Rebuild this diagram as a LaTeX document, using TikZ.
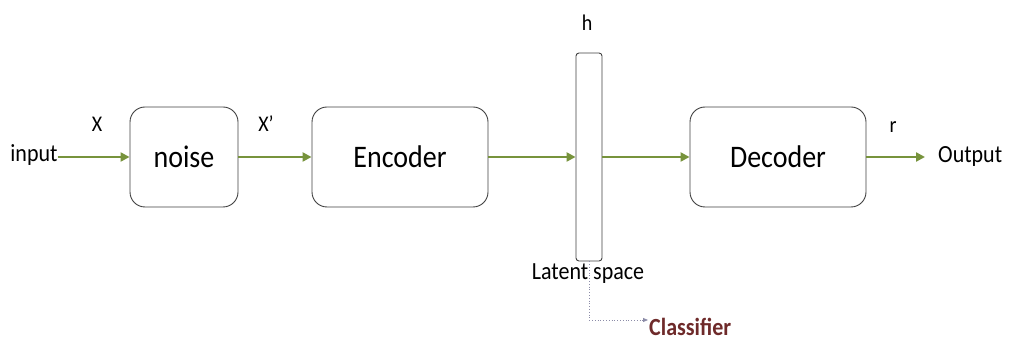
\documentclass[tikz,border=0pt]{standalone}
\usepackage{fontspec}
\usepackage{graphicx}
\setmainfont{Carlito}
\usetikzlibrary{arrows.meta}
\definecolor{flowgreen}{HTML}{77933C}
\definecolor{boxline}{HTML}{404040}
\definecolor{clsred}{HTML}{6E2A2A}
\definecolor{dotline}{HTML}{8C8CA8}
% glyphs set slightly taller than the font's natural proportions
\newcommand{\tallt}[1]{\scalebox{1}[1.12]{#1}}
\tikzset{
  block/.style={draw=boxline, line width=0.9pt, rounded corners=15pt, fill=white,
    minimum width=176pt, minimum height=100pt, inner sep=0pt,
    font=\fontsize{28}{32}\selectfont},
  latent/.style={draw=boxline, line width=0.9pt, rounded corners=3pt, fill=white,
    minimum width=26pt, minimum height=208pt, inner sep=0pt},
  lbl/.style={inner sep=0pt, font=\fontsize{22}{26}\selectfont},
  sym/.style={inner sep=0pt, font=\fontsize{20}{24}\selectfont},
  flow/.style={draw=flowgreen, line width=2.6pt,
    -{Triangle[length=9pt,width=9pt]}},
  tap/.style={draw=dotline, line width=0.8pt, dotted,
    -{Triangle[length=5pt,width=4pt]}}
}
\begin{document}
\begin{tikzpicture}[x=1pt,y=-1pt]
\useasboundingbox (0,0) rectangle (1009,344);

% processing blocks
\node[block, minimum width=108pt] (noise) at (184,157) {\tallt{noise}};
\node[block] (enc) at (400,157) {\tallt{Encoder}};
\node[latent] (bar) at (589,157) {};
\node[block] (dec) at (778,157) {\tallt{Decoder}};

% terminals
\node[lbl] (in) at (34,155) {\tallt{input}};
\node[lbl, anchor=west] (out) at (938,156) {\tallt{Output}};
\node[lbl, font=\bfseries\fontsize{22}{26}\selectfont, text=clsred, anchor=west] (cls) at (649,327) {\tallt{Classifier}};
\node[lbl] (lat) at (588,274) {\tallt{Latent space}};

% symbols
\node[sym] (x) at (97,124) {\tallt{X}};
\node[sym] (xp) at (266,124) {\tallt{X’}};
\node[sym] (h) at (587,23) {\tallt{h}};
\node[sym] (r) at (893,127) {\tallt{r}};

% data flow
\draw[flow] (in.east |- noise.west) -- (noise.west);
\draw[flow] (noise.east) -- (enc.west);
\draw[flow] (enc.east) -- (bar.west);
\draw[flow] (bar.east) -- (dec.west);
\draw[flow, shorten >=13pt] (dec.east) -- (out.west |- dec.east);

% latent code tapped for classification
\draw[tap] (bar.south) |- ([xshift=-1pt,yshift=7pt]cls.west);
\end{tikzpicture}
\end{document}
